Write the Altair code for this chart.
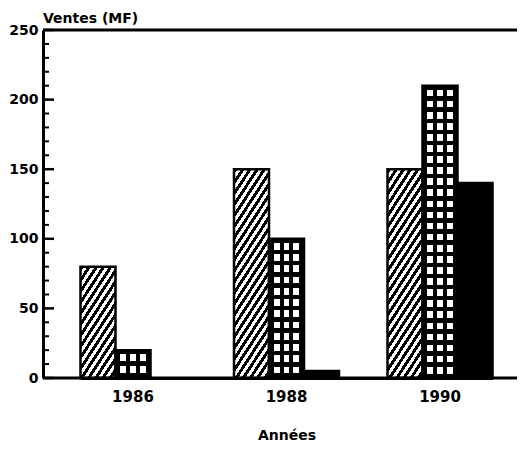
import math
import altair as alt
import pandas as pd

# ---- data ----
years = ["1986", "1988", "1990"]
series_names = ["hachuré", "quadrillé", "plein"]
ventes_hachure = [80, 150, 150]
ventes_quadrille = [20, 100, 210]
ventes_plein = [0, 5, 140]
y_label_values = [0, 50, 100, 150, 200, 250]
y_tick_values = list(range(0, 251, 10))

# ---- layout / style constants ----
PLOT_W, PLOT_H = 474, 348
Y_MAX = 250
BAR_W = 35
FONT = "DejaVu Sans"

rows = []
for i, y in enumerate(years):
    rows.append({"year": y, "series": series_names[0], "value": ventes_hachure[i]})
    rows.append({"year": y, "series": series_names[1], "value": ventes_quadrille[i]})
    rows.append({"year": y, "series": series_names[2], "value": ventes_plein[i]})
df = pd.DataFrame(rows)
ticks_df = pd.DataFrame({"value": y_tick_values})
frame_df = pd.DataFrame({"value": [0, Y_MAX]})


def px_height(v):
    return v / Y_MAX * PLOT_H


def gradient(stops, x2, y2):
    return alt.LinearGradient(
        gradient="linear",
        stops=[alt.GradientStop(offset=float(o), color=c) for o, c in stops],
        x1=0, y1=0, x2=float(x2), y2=float(y2),
    )


def hatch_fill(v, angle=57, period=6.0, white=0.5):
    h = px_height(v)
    w = BAR_W
    th = math.radians(angle)
    sn, cs = math.sin(th), math.cos(th)
    ux, uy = sn / h, cs / w
    s = (ux + uy) / (ux * ux + uy * uy)
    extent = w * sn + h * cs
    stops = []
    k = 0
    while k * period < extent:
        a = k * period / extent
        b = min((k * period + period * (1 - white)) / extent, 1.0)
        e = min((k + 1) * period / extent, 1.0)
        stops += [(a, "black"), (b, "black"), (b, "white"), (e, "white")]
        k += 1
    return gradient(stops, s * ux, s * uy)


def grid_columns_fill():
    w = BAR_W
    edges = [(0, 4.5, "black"), (4.5, 10.5, "white"), (10.5, 14.5, "black"),
             (14.5, 20.5, "white"), (20.5, 24.5, "black"), (24.5, 30.5, "white"),
             (30.5, 35, "black")]
    stops = []
    for a, b, c in edges:
        stops += [(a / w, c), (b / w, c)]
    return gradient(stops, 1, 0)


def grid_rows_fill(v, top=4.0, cell=11.0):
    h = px_height(v)
    n = max(1, round((h - top) / cell))
    p = (h - top) / n
    clear = "rgba(0,0,0,0)"
    stops = [(0, "black"), (top / h, "black")]
    for k in range(n):
        a = top + k * p
        b = a + p * 0.6
        e = a + p
        stops += [(a / h, clear), (b / h, clear), (b / h, "black"), (min(e / h, 1.0), "black")]
    return gradient(stops, 0, 1)


x_axis = alt.Axis(title="Années", labelAngle=0, ticks=False, labelPadding=11,
                  titlePadding=24, domainWidth=3, domainColor="black",
                  labelFontSize=15, labelFontWeight="bold", labelFont=FONT,
                  titleFontSize=14, titleFontWeight="bold", titleFont=FONT,
                  labelColor="black", titleColor="black")
y_axis = alt.Axis(values=y_label_values, ticks=False, title=None, labelPadding=5,
                  domainWidth=3, domainColor="black", grid=False,
                  labelFontSize=14, labelFontWeight="bold", labelFont=FONT,
                  labelColor="black")
y_scale = alt.Scale(domain=[0, Y_MAX], nice=False, zero=True)

x_enc = alt.X(
    "year:N",
    scale=alt.Scale(domain=years, range=[37.5, 449.5], paddingInner=0.316, paddingOuter=0),
    axis=x_axis,
)
xoff_enc = alt.XOffset("series:N", scale=alt.Scale(domain=series_names, paddingInner=0, paddingOuter=0))
y_enc = alt.Y("value:Q", scale=y_scale, axis=y_axis)

base = alt.Chart().encode(x=x_enc, xOffset=xoff_enc, y=y_enc)

layers = []
for _, r in df.iterrows():
    if r["value"] <= 0:
        continue
    sel = base.transform_filter(
        (alt.datum.year == r["year"]) & (alt.datum.series == r["series"])
    )
    if r["series"] == series_names[0]:
        layers.append(sel.mark_bar(fill=hatch_fill(r["value"]), stroke="black", strokeWidth=2.5))
    elif r["series"] == series_names[1]:
        layers.append(sel.mark_bar(fill=grid_columns_fill(), stroke="black", strokeWidth=2.5))
        layers.append(sel.mark_bar(fill=grid_rows_fill(r["value"]), strokeWidth=0))
    else:
        layers.append(sel.mark_bar(fill="black", stroke="black", strokeWidth=2.5))

minor = alt.Chart(ticks_df).transform_filter("datum.value % 50 != 0").mark_rule(
    color="black", strokeWidth=2
).encode(y=alt.Y("value:Q", scale=y_scale, axis=y_axis), x=alt.value(0), x2=alt.value(6))
major = alt.Chart(ticks_df).transform_filter("datum.value % 50 == 0").mark_rule(
    color="black", strokeWidth=2.5
).encode(y=alt.Y("value:Q", scale=y_scale, axis=y_axis), x=alt.value(0), x2=alt.value(11))
frame_lines = alt.Chart(frame_df).mark_rule(
    color="black", strokeWidth=3
).encode(y=alt.Y("value:Q", scale=y_scale, axis=y_axis), x=alt.value(0), x2=alt.value(PLOT_W))

chart = alt.layer(*layers, minor, major, frame_lines, data=df).properties(
    width=PLOT_W,
    height=PLOT_H,
    title=alt.TitleParams("Ventes (MF)", anchor="start", frame="group", offset=4, dy=7,
                          fontSize=14, fontWeight="bold", font=FONT, color="black"),
    autosize=alt.AutoSizeParams(type="none"),
    padding={"left": 35, "top": 22, "right": 0, "bottom": 72},
).configure_view(stroke=None).configure(background="white")

chart.save("out.html", embed_options={"renderer": "svg", "actions": False})
